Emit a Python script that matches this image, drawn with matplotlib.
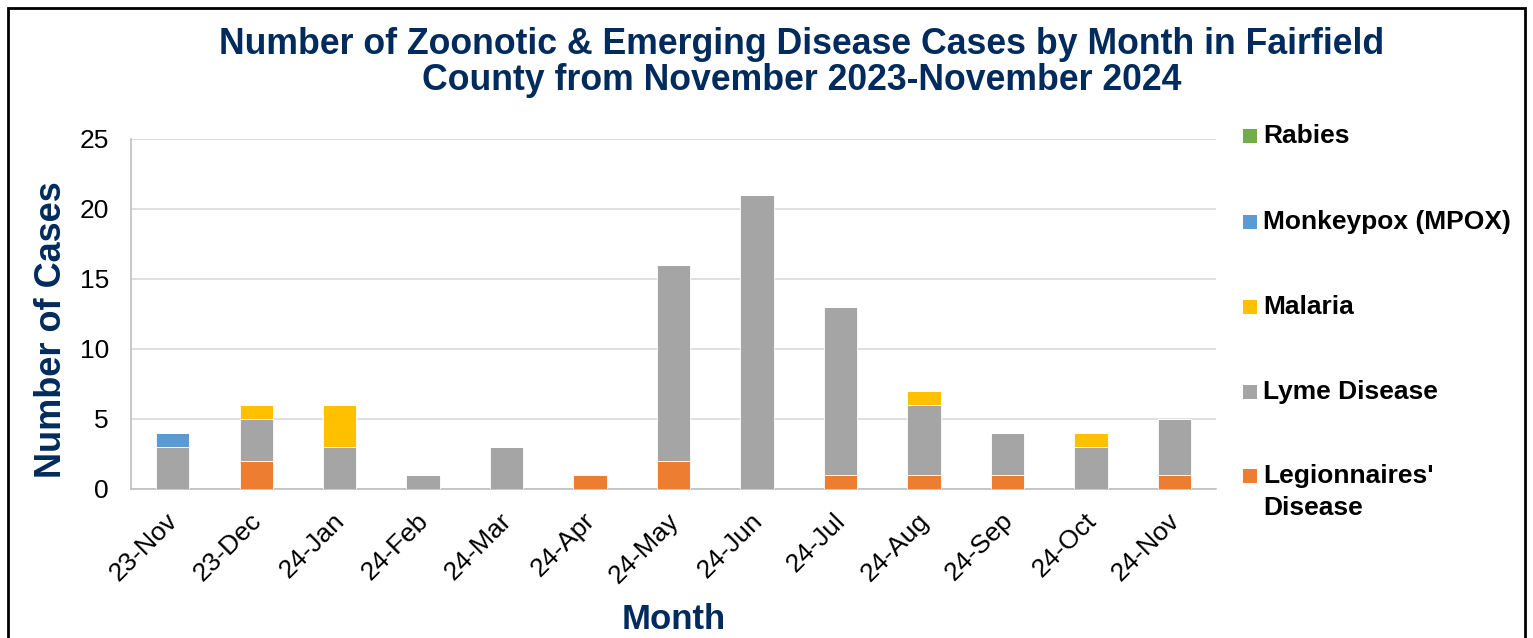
import matplotlib
matplotlib.use("Agg")
import matplotlib.pyplot as plt
from matplotlib.patches import Rectangle
from matplotlib.transforms import ScaledTranslation
import numpy as np

plt.rcParams['font.family'] = ['Liberation Sans', 'DejaVu Sans']

months = ["23-Nov", "23-Dec", "24-Jan", "24-Feb", "24-Mar", "24-Apr", "24-May",
          "24-Jun", "24-Jul", "24-Aug", "24-Sep", "24-Oct", "24-Nov"]
legionnaires = [0, 2, 0, 0, 0, 1, 2, 0, 1, 1, 1, 0, 1]
lyme = [3, 3, 3, 1, 3, 0, 14, 21, 12, 5, 3, 3, 4]
malaria = [0, 1, 3, 0, 0, 0, 0, 0, 0, 1, 0, 1, 0]
mpox = [1, 0, 0, 0, 0, 0, 0, 0, 0, 0, 0, 0, 0]
rabies = [0, 0, 0, 0, 0, 0, 0, 0, 0, 0, 0, 0, 0]

series_names = ["Legionnaires'\nDisease", "Lyme Disease", "Malaria",
                "Monkeypox (MPOX)", "Rabies"]
series_values = [legionnaires, lyme, malaria, mpox, rabies]
colors = ["#ED7D31", "#A5A5A5", "#FFC000", "#5B9BD5", "#70AD47"]
yticks = [0, 5, 10, 15, 20, 25]
title_lines = ["Number of Zoonotic & Emerging Disease Cases by Month in Fairfield",
               "County from November 2023-November 2024"]

navy = "#002B5C"
W, H = 1533, 638
fig = plt.figure(figsize=(W / 100, H / 100), dpi=100)

ax = fig.add_axes([131 / W, 1 - 489 / H, (1216 - 131) / W, (489 - 139) / H])
x = np.arange(len(months))
bottom = np.zeros(len(months))
for name, vals, c in zip(series_names, series_values, colors):
    v = np.array(vals, dtype=float)
    ax.bar(x, v, width=0.4, bottom=bottom, color=c, edgecolor="white",
           linewidth=0.6, zorder=3)
    bottom += v

ax.set_xlim(-0.5, len(months) - 0.5)
ax.set_ylim(0, 25)
ax.set_yticks(yticks)
ax.set_yticklabels([str(t) for t in yticks], fontsize=19)
ax.set_xticks(x)
ax.set_xticklabels(months, rotation=45, ha="right", rotation_mode="anchor",
                   fontsize=19)
ax.tick_params(axis="both", length=0)
ax.tick_params(axis="y", pad=16)
ax.tick_params(axis="x", pad=14)
shift = ScaledTranslation(-7 / 100, 0, fig.dpi_scale_trans)
for lbl in ax.get_xticklabels():
    lbl.set_transform(lbl.get_transform() + shift)
ax.grid(axis="y", color="#D9D9D9", linewidth=1.2, zorder=0)
for s in ["top", "right"]:
    ax.spines[s].set_visible(False)
for s in ["left", "bottom"]:
    ax.spines[s].set_color("#BFBFBF")
    ax.spines[s].set_linewidth(1.2)

ax.set_ylabel("Number of Cases", fontsize=26, fontweight="bold", color=navy)
ax.yaxis.set_label_coords((69 - 131) / 1085, (489 - 330) / 350)
ax.set_xlabel("Month", fontsize=25, fontweight="bold", color=navy, labelpad=11)

for i, line in enumerate(title_lines):
    fig.text(802 / W, 1 - (53.5 + 37 * i) / H, line, ha="center", va="baseline",
             fontsize=25.7, fontweight="bold", color=navy)

# Legend (reversed order, Rabies on top)
leg_base = [143, 229, 314, 399, 483]
for i, (name, c) in enumerate(zip(series_names[::-1], colors[::-1])):
    yb = leg_base[i]
    fig.patches.append(Rectangle((1243 / W, 1 - yb / H), 14 / W, 14 / H,
                                 transform=fig.transFigure, facecolor=c,
                                 edgecolor="none"))
    for k, part in enumerate(name.split("\n")):
        fig.text(1263 / W, 1 - (yb + 32 * k) / H, part, ha="left",
                 va="baseline", fontsize=19, fontweight="bold", color="black")

# Outer border
fig.patches.append(Rectangle((8 / W, -0.05), (1525 - 8) / W, 1 - 8 / H + 0.05,
                             transform=fig.transFigure, facecolor="none",
                             edgecolor="black", linewidth=2))

fig.savefig("out.png", dpi=100)
